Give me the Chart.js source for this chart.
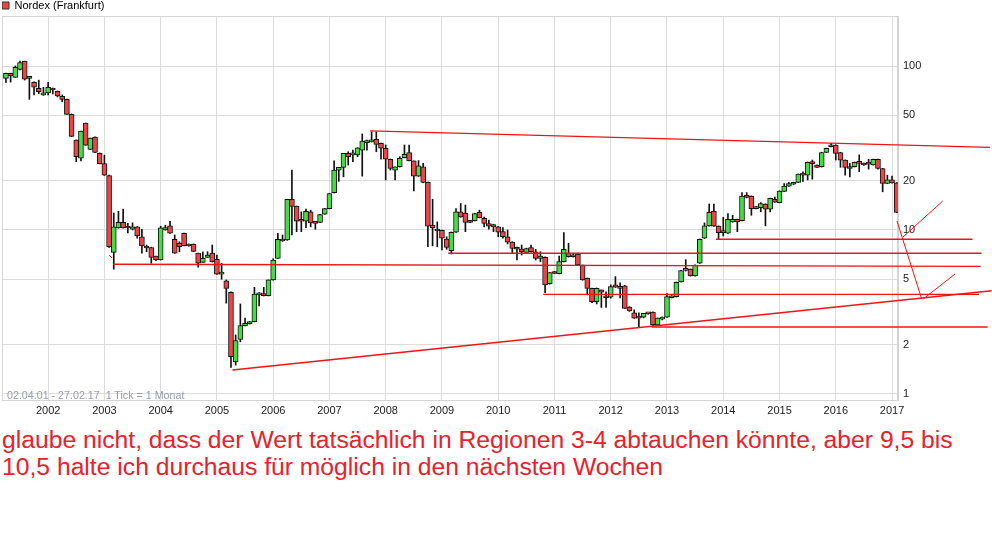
<!DOCTYPE html>
<html>
<head>
<meta charset="utf-8">
<title>Nordex (Frankfurt)</title>
<script src="https://cdn.jsdelivr.net/npm/chart.js@4.4.0/dist/chart.umd.min.js"></script>
<style>
  html, body { margin: 0; padding: 0; background: #fff; }
  #wrap { position: relative; width: 992px; height: 549px; overflow: hidden; }
  #chart { position: absolute; left: 0; top: 0; }
  #range { position: absolute; left: 7px; top: 389px; font: 10.7px 'Liberation Sans', Arial, sans-serif; color: #9a9aae; white-space: pre; }
  #note { position: absolute; left: 2px; top: 426px; width: 990px; font: 24.7px/27px 'Liberation Sans', Arial, sans-serif; color: #e8212b; }
</style>
</head>
<body>
<div id="wrap">
  <canvas id="chart" width="992" height="420"></canvas>
  <div id="range">02.04.01 - 27.02.17  1 Tick = 1 Monat</div>
  <div id="note">glaube nicht, dass der Wert tatsächlich in Regionen 3-4 abtauchen könnte, aber 9,5 bis 10,5 halte ich durchaus für möglich in den nächsten Wochen</div>
</div>
<script>
// Monatskerzen ab April 2001
const firstMonth = 2001 + 3 / 12;

const open = [
    84.1, 90.2, 85.3, 95.4, 107, 85.3, 79.5, 73.1, 66.6,
    68.5, 73.1, 70.1, 65.4, 62.6, 50.7, 35.4, 27.4, 44.9, 31, 36.8, 29.3,
    25.4, 21.5, 7.31, 10.28, 11.13, 10.45, 10.1, 10.45, 9.1, 7.99, 7.82, 6.94,
    6.56, 10.0, 10.6, 8.78, 8.3, 9.55, 7.99, 8.2, 7.22, 6.35, 6.81, 7.22,
    6.62, 5.38, 4.89, 4.17, 1.57, 2.15, 2.61, 2.68, 2.76, 4.02, 4.1, 3.98,
    4.96, 6.72, 8.81, 8.69, 15.4, 14.0, 11.5, 11.3, 12.9, 11.3, 11.13, 12.5,
    13.5, 16.9, 23.2, 24.1, 29.3, 28.7, 28.7, 30.7, 34.1, 34.5, 35.7, 33.8,
    31.5, 27, 23.2, 24.3, 27.6, 29.7, 26.4, 21.3, 24.3, 19.5, 10.7, 10.05,
    9.96, 8.81, 7.48, 9.69, 12.9, 12.7, 11.4, 11.4, 12.8, 11.8, 10.95, 10.8,
    10.45, 9.77, 9.1, 8.44, 7.82, 7.66, 7.31, 7.82, 7.37, 6.72, 6.81, 4.7,
    5.57, 5.41, 6.41, 7.22, 6.87, 7.14, 6.12, 5.08, 4.41, 3.66, 4.31, 3.94,
    3.89, 4.63, 4.52, 4.57, 3.39, 3.12, 2.94, 2.94, 3.1, 3.16, 2.64, 2.86,
    2.94, 3.86, 3.92, 4.82, 5.66, 5.77, 5.24, 6.27, 8.91, 10.6, 13.0, 10.55,
    9.9, 9.55, 11.2, 11.6, 11.4, 16.1, 16.1, 13.5, 13.7, 14.4, 13.4, 15.4,
    14.7, 17.2, 18.5, 19.0, 19.5, 22.1, 21.6, 25.9, 24.9, 24.3, 29.7, 32.2,
    33, 29.7, 26.7, 24.3, 24.3, 25.9, 25.5, 25.7, 24.9, 27, 23.7, 19.2,
    20.2, 19.4
];
const high = [
    90.5, 90.5, 100, 107, 107, 85.7, 80, 82, 74.2,
    79.5, 73.4, 70.4, 66.6, 62.9, 51, 35.4, 40.1, 44.9, 36.4, 37, 29.5,
    28.6, 21.6, 12.7, 13.0, 13.4, 11.0, 11.05, 10.5, 10.1, 8.1, 7.86, 6.94,
    10.55, 10.7, 11.3, 9.32, 8.49, 9.59, 8.22, 8.22, 7.24, 7.37, 7.37, 8.1,
    7.04, 6.27, 4.96, 4.2, 2.29, 3.54, 2.9, 2.77, 4.47, 4.15, 4.47, 4.96,
    6.68, 9.55, 9.32, 15.4, 23.2, 14.0, 12.9, 13.4, 13.2, 11.3, 12.45, 13.55,
    16.75, 26.4, 24.1, 29.3, 30, 30.7, 31.8, 38.5, 35.4, 39.7, 39.7, 33.9,
    33, 27.1, 24.3, 28, 33, 33, 26.4, 26.5, 25.5, 19.6, 15.4, 11.2,
    10, 9.1, 9.73, 13.5, 14.5, 14.2, 11.45, 12.65, 13.2, 12.0, 11.5, 10.85,
    10.5, 10.33, 10, 8.48, 7.86, 8.1, 7.75, 8.1, 7.63, 7.37, 6.85, 5.51,
    5.6, 6.94, 9.63, 8.3, 7.22, 7.22, 6.12, 5.1, 4.43, 4.43, 4.31, 4.2,
    4.63, 5.2, 4.76, 4.6, 3.41, 3.26, 3.12, 3.1, 3.11, 3.17, 2.91, 2.95,
    4.1, 3.98, 4.82, 5.67, 6.59, 5.79, 6.14, 8.81, 11.05, 14.4, 14.4, 10.6,
    11.95, 12.6, 12.3, 11.65, 16.9, 16.9, 16.15, 13.95, 14.7, 14.45, 15.65, 15.9,
    17.35, 19.2, 19.5, 19.55, 21.95, 22.6, 26, 26.7, 24.95, 29.8, 31.6, 33.8,
    33.1, 29.8, 26.8, 25.5, 25.95, 28.7, 25.55, 27, 27.05, 27.05, 23.75, 21.6,
    21.3, 19.45
];
const low = [
    79.5, 79.8, 85.3, 94.5, 82.1, 62.6, 66.6, 67.8, 66.1,
    66.6, 67.5, 64.8, 60.5, 50.6, 37.1, 26.1, 26.4, 32.8, 30.9, 29.6, 25.3,
    21.5, 7.83, 5.77, 10.25, 10.25, 9.59, 10, 8.91, 7.22, 7.37, 6.27, 6.51,
    6.56, 9.96, 9.52, 7.2, 7.37, 7.99, 7.95, 7.37, 5.93, 6.34, 6.79, 6.38,
    5.36, 5.01, 3.58, 1.45, 1.5, 2.08, 2.6, 2.67, 2.75, 3.44, 3.96, 3.96,
    4.94, 6.7, 8.53, 8.65, 9.32, 9.77, 9.77, 10.33, 10.45, 10.1, 11.1, 12.45,
    13.45, 16.85, 19.8, 21.1, 24.9, 26.1, 28, 21.3, 30.7, 34.4, 30, 27,
    20.2, 23.2, 20.2, 24.2, 27.5, 26.4, 17.3, 21.2, 19.4, 7.9, 8.0, 7.9,
    7.55, 7.63, 7.14, 9.65, 11.95, 9.77, 11.1, 11.35, 11.85, 10.45, 10.1, 9.77,
    9.1, 8.91, 8.22, 7.26, 6.56, 7.04, 7.29, 7.33, 6.56, 6.41, 4.15, 4.68,
    5.41, 5.39, 6.38, 6.84, 6.84, 6.1, 4.94, 4.02, 3.61, 3.54, 3.37, 3.37,
    3.84, 4.46, 3.85, 3.32, 3.19, 2.89, 2.56, 2.91, 3.06, 2.6, 2.63, 2.83,
    2.93, 3.85, 3.9, 4.8, 5.62, 5.23, 5.23, 6.25, 8.88, 10.55, 10.5, 8.78,
    9.19, 9.52, 11.15, 9.77, 11.35, 15.7, 12.3, 13.45, 12.9, 10.6, 12.9, 14.75,
    14.65, 17.15, 18.45, 18.95, 19.45, 19.8, 20.2, 20.4, 24.05, 24.2, 29.6, 32.1,
    26.7, 24.1, 21.6, 21.1, 24.2, 22.7, 24.8, 23.5, 24.85, 23.5, 17.1, 19.15,
    19.3, 12.75
];
const close = [
    90.2, 86.9, 98.1, 105, 83, 84.1, 74.2, 69.7, 68.5,
    74.2, 71.4, 65.7, 62.6, 50.7, 37.2, 28, 40.1, 32.9, 36.4, 29.7, 25.4,
    21.6, 7.9, 10.45, 11.13, 10.28, 10.28, 10.45, 9.19, 7.99, 7.77, 6.81, 6.56,
    10.3, 10.33, 9.55, 7.22, 7.9, 8.02, 8.2, 7.4, 6.27, 6.72, 7.04, 6.41,
    5.38, 5.53, 4.41, 1.69, 2.12, 2.61, 2.7, 2.76, 4.06, 4.14, 3.98, 4.96,
    6.56, 8.78, 8.57, 15.4, 13.9, 11.3, 11.3, 13.0, 11.05, 10.95, 12.4, 13.5,
    16.7, 23.2, 24.1, 29.3, 28, 29.3, 31.7, 34.9, 35, 35.4, 33.3, 31.5,
    27, 23.7, 24.3, 27.4, 28.9, 26.5, 21.3, 24.6, 19.5, 10.55, 10.3, 9.86,
    8.91, 7.82, 9.69, 12.9, 12.0, 11.13, 11.13, 12.6, 11.9, 10.95, 10.55, 10.45,
    9.69, 9.1, 8.44, 7.71, 7.63, 7.37, 7.71, 7.37, 6.72, 6.94, 4.63, 5.5,
    5.43, 6.41, 7.63, 6.87, 7.04, 6.12, 4.96, 4.41, 3.66, 4.41, 4.17, 3.86,
    4.52, 4.48, 4.41, 3.33, 3.21, 2.9, 2.9, 3.1, 3.08, 2.64, 2.9, 2.94,
    3.92, 3.96, 4.8, 5.66, 5.84, 5.24, 6.12, 8.78, 10.6, 12.8, 10.55, 9.64,
    9.64, 11.6, 11.6, 11.2, 16.1, 15.8, 13.5, 13.9, 14.5, 13.4, 15.6, 14.8,
    17.3, 18.5, 19.2, 19.5, 21.9, 21.6, 25.9, 25.4, 24.1, 29.7, 31.5, 33,
    29.3, 26.7, 24.1, 23.7, 25.9, 25.5, 24.9, 25.2, 27, 23.7, 19.2, 20.2,
    19.4, 12.8
];

const yearTicks = [2002, 2003, 2004, 2005, 2006, 2007, 2008, 2009, 2010, 2011, 2012, 2013, 2014, 2015, 2016, 2017];
const priceTicks = [1, 2, 5, 10, 20, 50, 100];

// eingezeichnete Linien: [Jahr, Kurs]
const trendLines = [
    [[2007.72, 40.2], [2018.74, 31.9]],
    [[2005.275, 1.40], [2018.77, 4.26]],
    [[2003.155, 6.18], [2018.575, 6.0]],
    [[2009.11, 7.21], [2018.59, 7.21]],
    [[2013.87, 8.78], [2018.43, 8.78]],
    [[2010.80, 4.05], [2018.545, 4.05]],
    [[2012.73, 2.56], [2018.70, 2.56]]
];
const sketchLines = [
    [[2017.088, 11.35], [2017.527, 3.80]],
    [[2017.556, 3.80], [2018.119, 5.39]],
    [[2017.189, 9.03], [2017.900, 15.0]],
    [[2003.084, 7.04], [2003.137, 6.75]]
];

const RED = '#ee4444';
const GREEN = '#44dd44';
const LINE_RED = '#ee1515';

const months = open.map((_, i) => firstMonth + i / 12);
const bodies = months.map((x, i) => ({x: x, y: [open[i], close[i]]}));
const wicks = months.map((x, i) => ({x: x, y: [low[i], high[i]]}));
const bodyColors = open.map((o, i) => close[i] >= o ? GREEN : RED);

function lineSet(pts, width) {
    return {
        type: 'line',
        data: pts.map(p => ({x: p[0], y: p[1]})),
        borderColor: LINE_RED,
        borderWidth: width,
        pointRadius: 0,
        tension: 0,
        clip: false,
        order: 0
    };
}

// Rahmen um die Zeichenfläche
const frame = {
    id: 'frame',
    beforeDatasetsDraw(chart) {
        const {ctx, chartArea: a} = chart;
        ctx.save();
        ctx.strokeStyle = '#d4d4d4';
        ctx.lineWidth = 1;
        ctx.strokeRect(a.left + 0.5, a.top + 0.5, a.width - 1, a.height);
        ctx.restore();
    }
};

Chart.defaults.font.family = "'Liberation Sans', Arial, sans-serif";
Chart.defaults.font.size = 11;
Chart.defaults.color = '#222';

new Chart(document.getElementById('chart'), {
    type: 'bar',
    data: {
        datasets: [
            ...trendLines.map(p => lineSet(p, 1.4)),
            ...sketchLines.map(p => lineSet(p, 1)),
            {
                type: 'bar',
                data: bodies,
                backgroundColor: bodyColors,
                borderColor: '#111',
                borderWidth: 1,
                borderSkipped: false,
                barThickness: 5,
                minBarLength: 2,
                grouped: false,
                order: 1
            },
            {
                type: 'bar',
                data: wicks,
                backgroundColor: '#111',
                borderWidth: 0,
                barThickness: 1,
                grouped: false,
                order: 2
            }
        ]
    },
    options: {
        responsive: false,
        animation: false,
        events: [],
        layout: {padding: {left: 2, top: 0, right: 0, bottom: 0}},
        plugins: {
            tooltip: {enabled: false},
            legend: {
                position: 'top',
                align: 'start',
                maxHeight: 16,
                labels: {
                    boxWidth: 7,
                    boxHeight: 7,
                    padding: 0,
                    color: '#222',
                    font: {size: 11},
                    generateLabels: () => [{
                        text: 'Nordex (Frankfurt)',
                        fillStyle: RED,
                        strokeStyle: '#333',
                        lineWidth: 1,
                        hidden: false
                    }]
                }
            }
        },
        scales: {
            x: {
                type: 'linear',
                min: 2001.18,
                max: 2017.106,
                offset: false,
                grid: {color: '#dcdcdc', drawTicks: false, offset: false},
                border: {color: '#d4d4d4'},
                ticks: {padding: 4, maxRotation: 0, autoSkip: false, callback: v => String(v)},
                afterBuildTicks: s => { s.ticks = yearTicks.map(v => ({value: v})); },
                afterFit: s => { s.height = 20; }
            },
            y: {
                type: 'logarithmic',
                position: 'right',
                min: 0.919,
                max: 201.8,
                beginAtZero: false,
                grid: {color: '#dcdcdc', drawTicks: false},
                border: {color: '#d4d4d4'},
                ticks: {padding: 5, autoSkip: false, callback: v => String(v)},
                afterBuildTicks: s => { s.ticks = priceTicks.map(v => ({value: v})); },
                afterFit: s => { s.width = 94; }
            }
        }
    },
    plugins: [frame]
});
</script>
</body>
</html>
